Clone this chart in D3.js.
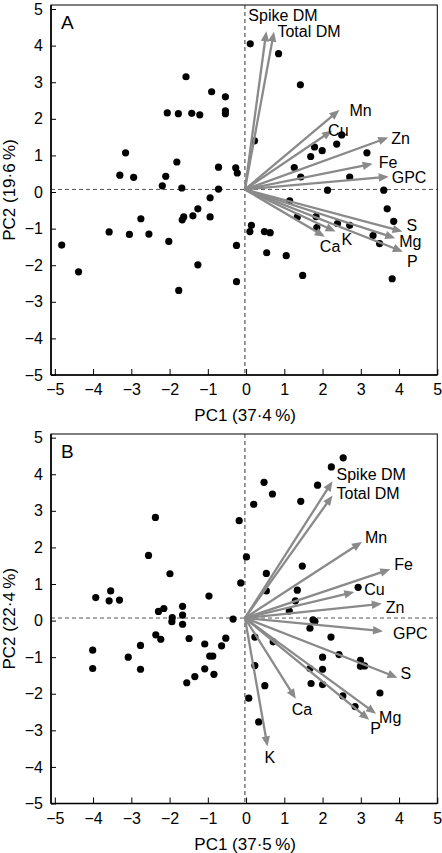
<!DOCTYPE html>
<html><head><meta charset="utf-8">
<script src="https://cdn.jsdelivr.net/npm/d3@7/dist/d3.min.js"></script>
<style>body{margin:0;background:#fff}svg text{font-family:"Liberation Sans",Arial,Helvetica,sans-serif}</style>
</head><body>
<svg id="c" width="442" height="853"></svg>
<script>
// ---------- data ----------
const tickValues = [-5,-4,-3,-2,-1,0,1,2,3,4,5];
const variables = ["Spike DM","Total DM","Mn","Cu","Zn","Fe","GPC","S","Mg","P","Ca","K"];
const origin = [-0.03, 0.07];

// Panel A scores
const scoresA_x = [0.11,-1.57,-0.90,-0.54,-2.06,-1.77,-1.42,-1.21,-0.54,-0.54,-3.15,-1.81,-3.30,-2.94,-2.10,-0.72,-0.27,-0.23,-2.19,-1.68,-0.72,-0.94,-1.26,-1.39,-1.63,-1.67,-0.94,-2.75,-3.58,-3.05,-2.54,-2.02,-4.82,-0.25,-4.38,-1.26,-0.25,-1.76,0.85,1.42,2.50,2.37,1.79,1.99,1.69,3.16,1.26,1.43,2.71,2.13,3.60,0.22,3.69,3.86,1.14,1.34,1.83,1.85,2.39,2.71,3.32,3.49,0.14,0.10,0.48,0.63,0.54,1.05,1.48,3.82];
const scoresA_y = [4.05,3.15,2.74,2.60,2.16,2.14,2.15,2.11,2.22,2.14,1.07,0.82,0.46,0.40,0.43,0.68,0.66,0.52,0.17,0.11,0.08,-0.16,-0.46,-0.65,-0.68,-0.76,-0.68,-0.73,-1.09,-1.16,-1.15,-1.35,-1.45,-1.46,-2.18,-1.99,-2.45,-2.69,3.78,2.93,1.56,1.31,1.23,1.13,0.97,1.07,0.67,0.41,0.41,0.05,0.05,1.40,-0.46,-0.80,-0.24,-0.68,-0.67,-0.97,-0.86,-0.91,-1.19,-1.41,-0.91,-1.08,-1.08,-1.11,-1.66,-1.74,-2.28,-2.37];
// Panel A loadings (arrow tips), order = variables
const loadA_x = [0.53,0.73,2.44,2.25,3.72,3.31,3.73,4.09,3.90,4.10,2.06,2.34];
const loadA_y = [4.39,4.38,2.24,1.68,1.49,0.77,0.42,-1.08,-1.26,-1.63,-1.22,-1.08];

// Panel B scores
const scoresB_x = [-2.37,-0.18,-2.55,0.01,-1.99,-0.14,-3.54,-3.93,-3.58,-3.31,-0.97,-2.15,-2.29,-1.66,-1.66,-1.93,-1.94,-1.66,-0.34,-2.36,-2.23,-1.49,-1.08,-0.53,-0.64,-4.01,-3.08,-2.76,-0.95,-0.87,-4.01,-2.76,-1.08,-0.84,-1.34,-1.55,0.07,2.54,2.23,0.47,1.87,0.69,0.20,1.43,1.47,0.53,0.53,1.34,2.93,1.29,1.13,1.75,1.80,1.67,2.22,0.23,0.71,2.00,2.43,2.99,2.99,3.10,1.67,2.00,0.23,1.70,2.00,0.49,2.53,3.50,2.85,0.33];
const scoresB_y = [2.82,2.73,1.78,1.74,1.28,1.03,0.81,0.63,0.54,0.56,0.67,0.33,0.25,0.39,0.15,0.08,-0.03,-0.10,0.04,-0.39,-0.51,-0.49,-0.64,-0.48,-0.69,-0.81,-1.00,-0.68,-0.97,-0.97,-1.31,-1.33,-1.32,-1.47,-1.53,-1.70,-2.12,4.45,4.20,3.78,3.70,3.46,3.18,3.26,1.49,1.29,0.81,0.83,0.91,0.54,0.26,0.02,-0.02,-0.21,-0.45,-0.45,-0.58,-1.00,-0.93,-1.09,-1.25,-1.24,-1.31,-1.33,-1.23,-1.72,-1.75,-1.78,-2.06,-1.98,-2.35,-2.77];
const loadB_x = [2.26,2.26,3.03,2.83,3.55,3.77,3.58,3.96,3.40,3.22,1.30,0.56];
const loadB_y = [3.81,3.42,2.15,0.78,0.46,1.40,-0.29,-1.56,-2.55,-2.71,-2.14,-3.44];

// ---------- layout / style ----------
const labelOffA = {"Spike DM":[-18,-16],"Total DM":[3.5,0],"Mn":[10,0],"Cu":[-4,0],"Zn":[3,1],"Fe":[6,-2],"GPC":[3,1],"S":[4,-6],"Mg":[4,3],"P":[4,10],"Ca":[-5,10],"K":[6,8]};
const labelOffB = {"Spike DM":[4,-6.5],"Total DM":[4,-2],"Mn":[3,-5],"Cu":[10,-3],"Zn":[4,3],"Fe":[4,-5],"GPC":[10,2],"S":[3,-4],"Mg":[3,3],"P":[1,9],"Ca":[-4,10],"K":[-3,11]};

const panels = [
  {letter:"A", top:5, bottom:375, yMax:5.11, sx:scoresA_x, sy:scoresA_y, lx:loadA_x, ly:loadA_y, off:labelOffA, xTitle:"PC1 (37\u00B74\u2009%)", yTitle:"PC2 (19\u00B76\u2009%)"},
  {letter:"B", top:434, bottom:803.5, yMax:5.1, sx:scoresB_x, sy:scoresB_y, lx:loadB_x, ly:loadB_y, off:labelOffB, xTitle:"PC1 (37\u00B75\u2009%)", yTitle:"PC2 (22\u00B74\u2009%)"}
];

const svg = d3.select("#c");
const left = 51, right = 437.3;
const x = d3.scaleLinear().domain([-5.1, 5]).range([left, right]);
const arrowCol = "#8a8a8a";
const fmt = d => d < 0 ? "\u2212" + Math.abs(d) : String(d);

panels.forEach(p => {
  const y = d3.scaleLinear().domain([-5, p.yMax]).range([p.bottom, p.top]);
  const g = svg.append("g");

  // dashed reference lines
  g.append("line").attr("x1", left).attr("x2", right).attr("y1", y(origin[1])).attr("y2", y(origin[1]))
    .attr("stroke", "#555").attr("stroke-width", 1).attr("stroke-dasharray", "4,3");
  g.append("line").attr("x1", x(origin[0])).attr("x2", x(origin[0])).attr("y1", p.top).attr("y2", p.bottom)
    .attr("stroke", "#333").attr("stroke-width", 1).attr("stroke-dasharray", "4,3");

  // frame
  g.append("rect").attr("x", left).attr("y", p.top).attr("width", right - left).attr("height", p.bottom - p.top)
    .attr("fill", "none").attr("stroke", "#000").attr("stroke-width", 1);
  g.append("line").attr("x1", left).attr("x2", left).attr("y1", p.top).attr("y2", p.bottom).attr("stroke", "#000").attr("stroke-width", 1.6);
  g.append("line").attr("x1", left).attr("x2", right).attr("y1", p.bottom).attr("y2", p.bottom).attr("stroke", "#000").attr("stroke-width", 1.6);

  // ticks (inside)
  const xAxis = d3.axisBottom(x).tickValues(tickValues).tickSize(-6).tickFormat(fmt).tickPadding(9);
  const ax = g.append("g").attr("transform", `translate(0,${p.bottom})`).call(xAxis);
  ax.select(".domain").remove();
  ax.selectAll("line").attr("stroke", "#000").attr("stroke-width", 1);
  ax.selectAll("text").attr("font-size", 16).attr("fill", "#000")
    .attr("font-family", '"Liberation Sans",Arial,sans-serif');
  const yAxis = d3.axisLeft(y).tickValues(tickValues).tickSize(-5).tickFormat(fmt).tickPadding(8);
  const ay = g.append("g").attr("transform", `translate(${left},0)`).call(yAxis);
  ay.select(".domain").remove();
  ay.selectAll("line").attr("stroke", "#000").attr("stroke-width", 1);
  ay.selectAll("text").attr("font-size", 16).attr("fill", "#000")
    .attr("font-family", '"Liberation Sans",Arial,sans-serif');

  // points
  g.append("g").selectAll("circle").data(p.sx.map((v, i) => [v, p.sy[i]])).join("circle")
    .attr("cx", d => x(d[0])).attr("cy", d => y(d[1])).attr("r", 3.6).attr("fill", "#000");

  // arrows
  const ox = x(origin[0]), oy = y(origin[1]);
  const ag = g.append("g");
  variables.forEach((name, i) => {
    const tx = x(p.lx[i]), ty = y(p.ly[i]);
    const dx = tx - ox, dy = ty - oy, L = Math.hypot(dx, dy), ux = dx / L, uy = dy / L;
    const hl = 10, hw = 4.2;
    const bx = tx - ux * hl, by = ty - uy * hl;
    ag.append("line").attr("x1", ox).attr("y1", oy).attr("x2", bx + ux * 2).attr("y2", by + uy * 2)
      .attr("stroke", arrowCol).attr("stroke-width", 2.3);
    ag.append("path").attr("d", `M${tx},${ty}L${bx - uy * hw},${by + ux * hw}L${bx + uy * hw},${by - ux * hw}Z`)
      .attr("fill", arrowCol);
  });
  // labels
  variables.forEach((name, i) => {
    const o = p.off[name];
    g.append("text").attr("x", x(p.lx[i]) + o[0]).attr("y", y(p.ly[i]) + o[1]).attr("dy", "0.36em")
      .attr("font-size", 16).attr("fill", "#000").text(name);
  });

  // panel letter
  g.append("text").attr("x", 61).attr("y", p.top + 24).attr("font-size", 19).text(p.letter);

  // axis titles
  g.append("text").attr("x", (left + right) / 2 + 1).attr("y", p.bottom + 46).attr("text-anchor", "middle")
    .attr("font-size", 17).text(p.xTitle);
  g.append("text").attr("transform", `translate(15,${(p.top + p.bottom) / 2}) rotate(-90)`).attr("text-anchor", "middle")
    .attr("font-size", 17).text(p.yTitle);
});
</script>
</body></html>
